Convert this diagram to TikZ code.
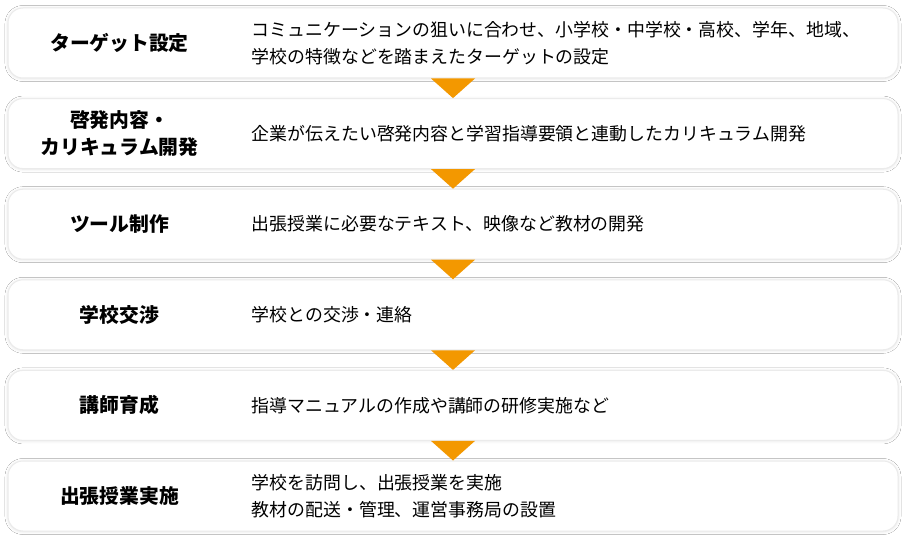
\documentclass[tikz,border=0pt]{standalone}
\usepackage{fontspec}
\setmainfont{Noto Sans CJK JP}
\usetikzlibrary{positioning,shadows.blur}
\definecolor{flowarrow}{HTML}{F39800}

\begin{document}
\begin{tikzpicture}[x=1pt,y=1pt,
      stepbox/.style={draw=black!8,line width=1pt,fill=white,rounded corners=15pt,
        minimum width=890pt,minimum height=70pt,
        blur shadow={shadow xshift=0pt,shadow yshift=-0.5pt,shadow blur radius=3pt,shadow opacity=12}},
      head/.style={font=\fontsize{19.8}{27}\selectfont\bfseries,align=center,inner sep=0pt},
      desc/.style={font=\fontsize{17.9}{27}\selectfont,align=left,anchor=west,inner sep=0pt}]
      \fill[white] (0,0) rectangle (906,-535);
      \useasboundingbox (0,0) rectangle (906,-535);
      \node[stepbox] (b1) at (453,-43) {};
      \node[stepbox,below=19.6pt of b1] (b2) {};
      \node[stepbox,below=19.6pt of b2] (b3) {};
      \node[stepbox,below=19.6pt of b3] (b4) {};
      \node[stepbox,below=19.6pt of b4] (b5) {};
      \node[stepbox,below=19.6pt of b5] (b6) {};
      % arrows between steps
      \foreach \a/\b in {b1/b2,b2/b3,b3/b4,b4/b5,b5/b6}
        \fill[flowarrow] ([xshift=-22pt]\a.south) -- ([xshift=22pt]\a.south) -- (\b.north) -- cycle;
      \node[head] (h1) at ([xshift=112pt]b1.west) {ターゲット設定};
      \node[head] (h2) at ([xshift=112pt]b2.west) {啓発内容・\\カリキュラム開発};
      \node[head] (h3) at ([xshift=112pt]b3.west) {ツール制作};
      \node[head] (h4) at ([xshift=112pt]b4.west) {学校交渉};
      \node[head] (h5) at ([xshift=112pt]b5.west) {講師育成};
      \node[head] (h6) at ([xshift=112pt]b6.west) {出張授業実施};
      \node[desc] (d1) at ([xshift=244pt]b1.west) {コミュニケーションの狙いに合わせ、小学校・中学校・高校、学年、地域、\\学校の特徴などを踏まえたターゲットの設定};
      \node[desc] (d2) at ([xshift=244pt]b2.west) {企業が伝えたい啓発内容と学習指導要領と連動したカリキュラム開発};
      \node[desc] (d3) at ([xshift=244pt]b3.west) {出張授業に必要なテキスト、映像など教材の開発};
      \node[desc] (d4) at ([xshift=244pt]b4.west) {学校との交渉・連絡};
      \node[desc] (d5) at ([xshift=244pt]b5.west) {指導マニュアルの作成や講師の研修実施など};
      \node[desc] (d6) at ([xshift=244pt]b6.west) {学校を訪問し、出張授業を実施\\教材の配送・管理、運営事務局の設置};
    \end{tikzpicture}
\end{document}
